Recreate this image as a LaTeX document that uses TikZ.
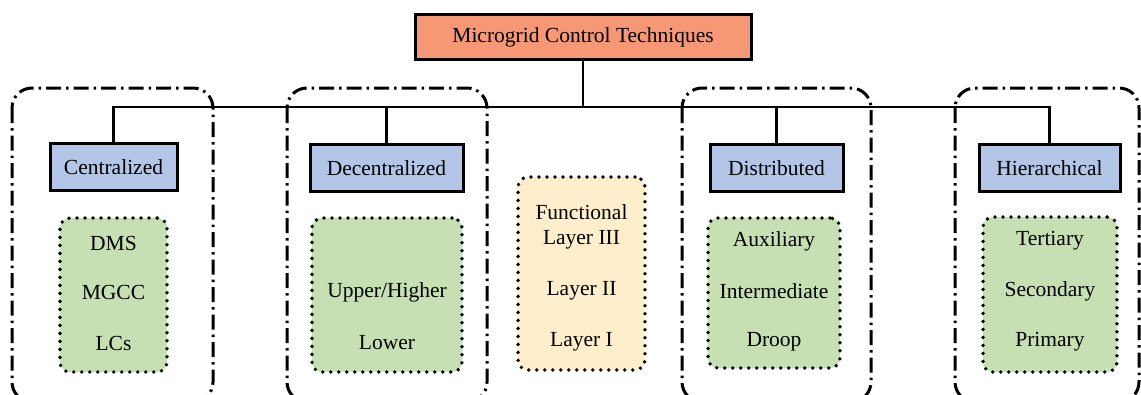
\documentclass[tikz,border=0pt]{standalone}
\usepackage{fontspec}
\setmainfont{Liberation Serif}
\begin{document}
\begin{tikzpicture}[x=1pt,y=-1pt,
  every node/.style={font=\fontsize{21.5}{24}\selectfont, text=black},
  rootbox/.style={draw=black, line width=3pt, fill=rootfill, minimum height=45pt, inner sep=0pt},
  catbox/.style={draw=black, line width=3pt, fill=catfill, minimum height=47pt, inner sep=0pt},
  groupbox/.style={draw=black, line width=3pt, rounded corners=20pt,
    dash pattern=on 15pt off 5pt on 2.5pt off 5pt},
  itembox/.style={draw=black, line width=3.8pt, rounded corners=10pt, line cap=round,
    dash pattern=on 0pt off 8pt, inner sep=0pt},
  link/.style={draw=black, line width=2.8pt},
  label/.style={inner sep=0pt, anchor=center}
]
\definecolor{rootfill}{RGB}{246,152,118}
\definecolor{catfill}{RGB}{180,198,231}
\definecolor{greenfill}{RGB}{198,224,180}
\definecolor{yellowfill}{RGB}{255,238,204}

\useasboundingbox (0,0) rectangle (1141,394);
\clip (0,0) rectangle (1141,394);

% dash-dotted group frames
\draw[groupbox] (12,88) rectangle (213,402);
\draw[groupbox] (287,88) rectangle (487,402);
\draw[groupbox] (682,88) rectangle (871,402);
\draw[groupbox] (955,88) rectangle (1139,402);

% root and categories
\node[rootbox, minimum width=336pt] (root) at (583,37) {Microgrid Control Techniques};
\node[catbox, minimum width=127pt] (cen) at (113.5,167) {Centralized};
\node[catbox, minimum width=153pt] (dec) at (386.5,168) {Decentralized};
\node[catbox, minimum width=133pt] (dis) at (776.5,168) {Distributed};
\node[catbox, minimum width=141pt] (hie) at (1049.5,168) {Hierarchical};

% tree connectors
\coordinate (bus) at (0,107);
\draw[link] (root.south) -- (root.south |- bus);
\draw[link] (cen.north) -- (cen.north |- bus) -- (hie.north |- bus) -- (hie.north);
\draw[link] (dec.north) -- (dec.north |- bus);
\draw[link] (dis.north) -- (dis.north |- bus);

% dotted item panels
\node[itembox, fill=greenfill, minimum width=107pt, minimum height=154pt] (cenp) at (113.5,295) {};
\node[itembox, fill=greenfill, minimum width=150pt, minimum height=154pt] (decp) at (387,295) {};
\node[itembox, fill=yellowfill, minimum width=127pt, minimum height=193pt] (layp) at (581.5,273.5) {};
\node[itembox, fill=greenfill, minimum width=132pt, minimum height=150pt] (disp) at (774,293) {};
\node[itembox, fill=greenfill, minimum width=134pt, minimum height=155pt] (hiep) at (1050,294.5) {};

% panel contents
\node[label] (c1) at (113.5,243) {DMS};
\node[label] (c2) at (113.5,292) {MGCC};
\node[label] (c3) at (113.5,343) {LCs};

\node[label] (d1) at (387,292) {Upper/Higher};
\node[label] (d2) at (387,343) {Lower};

\node[label] (l0) at (581.5,212) {Functional};
\node[label] (l1) at (581.5,240) {Layer III};
\node[label] (l2) at (581.5,291) {Layer II};
\node[label] (l3) at (581.5,342) {Layer I};

\node[label] (s1) at (774,241) {Auxiliary};
\node[label] (s2) at (774,291) {Intermediate};
\node[label] (s3) at (774,342) {Droop};

\node[label] (h1) at (1050,241) {Tertiary};
\node[label] (h2) at (1050,291) {Secondary};
\node[label] (h3) at (1050,342) {Primary};
\end{tikzpicture}
\end{document}
